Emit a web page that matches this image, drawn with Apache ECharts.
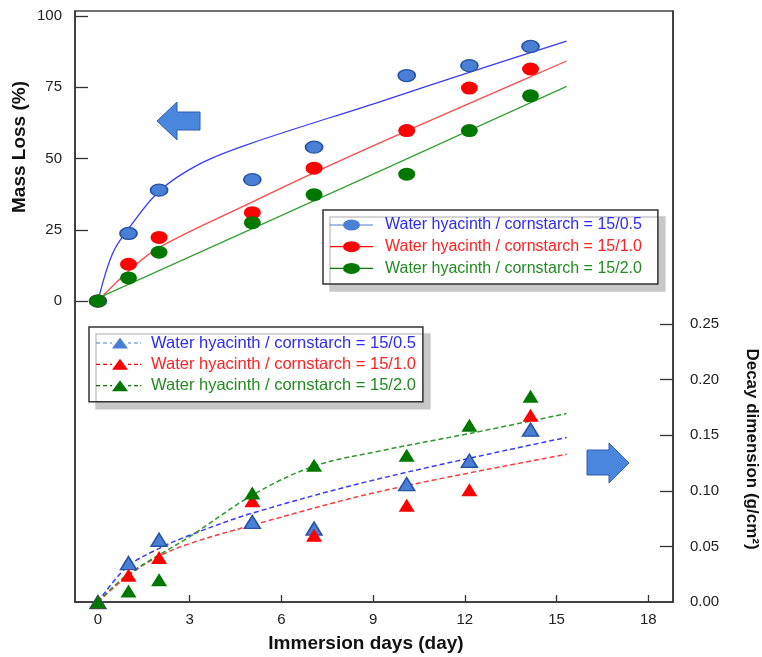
<!DOCTYPE html>
<html>
<head>
<meta charset="utf-8">
<script src="https://cdn.jsdelivr.net/npm/echarts@6/dist/echarts.min.js"></script>
<style>
  html, body { margin: 0; padding: 0; background: #fff; }
  #chart { width: 762px; height: 657px; }
</style>
</head>
<body>
<div id="chart"></div>
<script>
// measured points (immersion days)
const days = [0, 1, 2, 5.05, 7.07, 10.1, 12.15, 14.15];

// mass loss (%)
const massBlue = [0, 23.7, 38.9, 42.6, 54.0, 79.1, 82.6, 89.3];
const massRed = [0, 12.9, 22.3, 31.0, 46.6, 59.8, 74.7, 81.4];
const massGreen = [0, 8.1, 17.1, 27.5, 37.3, 44.5, 59.8, 72.0];

// decay dimension (g/cm2)
const decayBlue = [0, 0.035, 0.056, 0.072, 0.066, 0.106, 0.127, 0.155];
const decayRed = [0, 0.024, 0.040, 0.091, 0.060, 0.087, 0.101, 0.168];
const decayGreen = [0, 0.010, 0.020, 0.098, 0.123, 0.132, 0.159, 0.185];

// fitted curves
const fitBlueX = [0, 0.48, 1.03, 2.02, 3.33, 4.89, 9.22, 12.17, 15.33];
const fitBlueY = [0, 16.7, 25.8, 38.7, 48.1, 54.9, 69.9, 80.3, 91.2];
const fitRedX = [0, 1.03, 2.02, 4.9, 7.16, 9.22, 12.17, 15.33];
const fitRedY = [0, 10.8, 18.9, 34.0, 45.5, 55.5, 69.4, 84.2];
const fitGreenX = [0, 9.22, 15.33];
const fitGreenY = [1.0, 45.6, 75.3];

const decayFitBlueX = [0, 0.93, 1.91, 3.0, 5.06, 9.22, 15.33];
const decayFitBlueY = [0, 0.031, 0.047, 0.060, 0.080, 0.111, 0.148];
const decayFitRedX = [0, 0.93, 1.91, 3.0, 5.06, 9.22, 15.33];
const decayFitRedY = [0, 0.0225, 0.040, 0.0525, 0.0692, 0.0994, 0.1328];
const decayFitGreenX = [0, 0.94, 3.0, 5.06, 7.02, 9.22, 12.17, 15.33];
const decayFitGreenY = [0, 0.024, 0.0587, 0.0962, 0.1217, 0.1358, 0.1516, 0.1695];

const xTicks = [0, 3, 6, 9, 12, 15, 18];
const massTicks = [0, 25, 50, 75, 100];
const decayTicks = [0, 0.05, 0.10, 0.15, 0.20, 0.25];

const labels = {
  m05: 'Water hyacinth / cornstarch = 15/0.5',
  m10: 'Water hyacinth / cornstarch = 15/1.0',
  m20: 'Water hyacinth / cornstarch = 15/2.0',
  d05: 'Water hyacinth / cornstarch = 15/0.5',
  d10: 'Water hyacinth / cornstarch = 15/1.0',
  d20: 'Water hyacinth / cornstarch = 15/2.0'
};

const ellipse = 'path://M0,6A8.5,6,0,1,1,17,6A8.5,6,0,1,1,0,6Z';
const tri = 'path://M8,0L16,11L0,11Z';
// legend icons: line with the marker in the middle (43x11 and 45x11 boxes)
const legendEllipse = 'path://M0,4.9L14,4.9L14,6.1L0,6.1Z M29,4.9L43,4.9L43,6.1L29,6.1Z '
  + 'M13,5.5A8.5,5.5,0,1,1,30,5.5A8.5,5.5,0,1,1,13,5.5Z';
const legendTri = 'path://M0,4.9L4,4.9L4,6.1L0,6.1Z M7,4.9L11,4.9L11,6.1L7,6.1Z M14,4.9L16,4.9L16,6.1L14,6.1Z '
  + 'M32,4.9L35,4.9L35,6.1L32,6.1Z M38,4.9L42,4.9L42,6.1L38,6.1Z M44,4.9L45,4.9L45,6.1L44,6.1Z '
  + 'M24,0L32,11L16,11Z';
const FONT = 'Liberation Sans, Arial, sans-serif';

const pairs = (xs, ys) => xs.map((x, i) => [x, ys[i]]);

const makeFit = (name, xs, ys, yIndex, sym, fill, border, lineColor, dashed) => ({
  name: name,
  type: 'line',
  yAxisIndex: yIndex,
  data: pairs(xs, ys),
  smooth: 0.35,
  symbol: sym,
  showSymbol: false,
  silent: true,
  z: 2,
  itemStyle: { color: fill, borderColor: border, borderWidth: border ? 1.5 : 0 },
  lineStyle: { color: lineColor, width: dashed ? 1.5 : 1.3, type: dashed ? [5, 3] : 'solid' }
});

const makePoints = (name, ys, yIndex, sym, size, fill, border) => ({
  name: name,
  type: 'scatter',
  yAxisIndex: yIndex,
  data: pairs(days, ys),
  symbol: sym,
  symbolSize: size,
  silent: true,
  z: 3,
  itemStyle: { color: fill, borderColor: border || fill, borderWidth: border ? 1.5 : 0, opacity: 1 }
});

const BLUE_FILL = '#4a7fd6', BLUE_EDGE = '#2753a6';
const RED_FILL = '#ff0000', GREEN_FILL = '#007800';

const legendItem = (name, icon, textColor, fill) => ({
  name: name,
  icon: icon,
  itemStyle: { color: fill, borderWidth: 0 },
  textStyle: { color: textColor }
});

const legendBase = {
  orient: 'vertical',
  backgroundColor: '#ffffff',
  borderColor: '#333333',
  borderWidth: 1.5,
  shadowColor: '#c8c8c8',
  shadowBlur: 0,
  shadowOffsetX: 7,
  shadowOffsetY: 7,
  selectedMode: false,
  formatter: (n) => labels[n]
};

const axisLineStyle = { show: true, onZero: false, lineStyle: { color: '#333', width: 1.5 } };

const option = {
  animation: false,
  grid: {
    left: 75, right: 89, top: 11, bottom: 55,
    show: true, borderColor: '#444', borderWidth: 1.5, backgroundColor: 'transparent'
  },
  xAxis: {
    type: 'value',
    min: -0.75,
    max: 18.81,
    axisLine: axisLineStyle,
    axisTick: { show: true, inside: true, length: 7, customValues: [3, 6, 9, 12, 15, 18], lineStyle: { color: '#333', width: 1.3 } },
    axisLabel: { customValues: xTicks, margin: 10, color: '#222', fontSize: 15, fontFamily: FONT },
    splitLine: { show: false }
  },
  yAxis: [
    {
      type: 'value',
      position: 'left',
      min: -105.6,
      max: 101.75,
      axisLine: axisLineStyle,
      axisTick: { show: true, inside: true, length: 13, customValues: massTicks, lineStyle: { color: '#333', width: 1.3 } },
      axisLabel: { customValues: massTicks, margin: 13, color: '#222', fontSize: 15, fontFamily: FONT },
      splitLine: { show: false }
    },
    {
      type: 'value',
      position: 'right',
      min: 0,
      max: 0.5315,
      axisLine: axisLineStyle,
      axisTick: { show: true, inside: true, length: 13, customValues: decayTicks.slice(1), lineStyle: { color: '#333', width: 1.3 } },
      axisLabel: {
        customValues: decayTicks, margin: 17, color: '#222', fontSize: 15, fontFamily: FONT,
        formatter: (v) => v.toFixed(2)
      },
      splitLine: { show: false }
    }
  ],
  legend: [
    Object.assign({}, legendBase, {
      left: 323, top: 210,
      padding: [7, 16, 7.5, 7],
      itemWidth: 43, itemHeight: 11, itemGap: 5.7,
      textStyle: { fontSize: 16, fontFamily: FONT, padding: [0, 0, 0, 7] },
      data: [
        legendItem('m05', legendEllipse, '#2c2cf2', BLUE_FILL),
        legendItem('m10', legendEllipse, '#ff2222', RED_FILL),
        legendItem('m20', legendEllipse, '#238a23', GREEN_FILL)
      ]
    }),
    Object.assign({}, legendBase, {
      left: 89, top: 327,
      padding: [7.5, 7, 7.5, 7],
      itemWidth: 45, itemHeight: 11, itemGap: 4.35,
      textStyle: { fontSize: 16.5, fontFamily: FONT, padding: [0, 0, 0, 5] },
      data: [
        legendItem('d05', legendTri, '#2c2cf2', BLUE_FILL),
        legendItem('d10', legendTri, '#ff2222', RED_FILL),
        legendItem('d20', legendTri, '#238a23', GREEN_FILL)
      ]
    })
  ],
  series: [
    makeFit('m05', fitBlueX, fitBlueY, 0, ellipse, BLUE_FILL, BLUE_EDGE, '#3a3aff', false),
    makeFit('m10', fitRedX, fitRedY, 0, ellipse, RED_FILL, null, '#ff4a4a', false),
    makeFit('m20', fitGreenX, fitGreenY, 0, ellipse, GREEN_FILL, null, '#35a035', false),
    makeFit('d05', decayFitBlueX, decayFitBlueY, 1, tri, BLUE_FILL, BLUE_EDGE, '#3a3aff', true),
    makeFit('d10', decayFitRedX, decayFitRedY, 1, tri, RED_FILL, null, '#ff3a3a', true),
    makeFit('d20', decayFitGreenX, decayFitGreenY, 1, tri, GREEN_FILL, null, '#2e962e', true),
    makePoints('m05', massBlue, 0, ellipse, [17, 12], BLUE_FILL, BLUE_EDGE),
    makePoints('m10', massRed, 0, ellipse, [17, 13], RED_FILL),
    makePoints('m20', massGreen, 0, ellipse, [17, 13], GREEN_FILL),
    makePoints('d05', decayBlue, 1, tri, [16, 13], BLUE_FILL, BLUE_EDGE),
    makePoints('d10', decayRed, 1, tri, [16, 13], RED_FILL),
    makePoints('d20', decayGreen, 1, tri, [16, 13], GREEN_FILL)
  ],
  graphic: [
    {
      type: 'text', x: 20, y: 147, rotation: Math.PI / 2,
      style: { text: 'Mass Loss (%)', font: 'bold 19px ' + FONT, fill: '#111', align: 'center', verticalAlign: 'middle' }
    },
    {
      type: 'text', x: 366, y: 644,
      style: { text: 'Immersion days (day)', font: 'bold 19px ' + FONT, fill: '#111', align: 'center', verticalAlign: 'middle' }
    },
    {
      type: 'text', x: 752, y: 449, rotation: -Math.PI / 2,
      style: { text: 'Decay dimension (g/cm²)', font: 'bold 17px ' + FONT, fill: '#111', align: 'center', verticalAlign: 'middle' }
    },
    {
      type: 'polygon',
      shape: { points: [[157, 121], [177, 102], [177, 112], [200, 112], [200, 130], [177, 130], [177, 140]] },
      style: { fill: '#4a86dc', stroke: '#2f5fae', lineWidth: 1 }
    },
    {
      type: 'polygon',
      shape: { points: [[629, 463], [609, 443], [609, 450], [587, 450], [587, 475], [609, 475], [609, 483]] },
      style: { fill: '#4a86dc', stroke: '#2f5fae', lineWidth: 1 }
    }
  ]
};

window.addEventListener('load', () => {
  const chart = echarts.init(document.getElementById('chart'));
  chart.setOption(option);
});
</script>
</body>
</html>
